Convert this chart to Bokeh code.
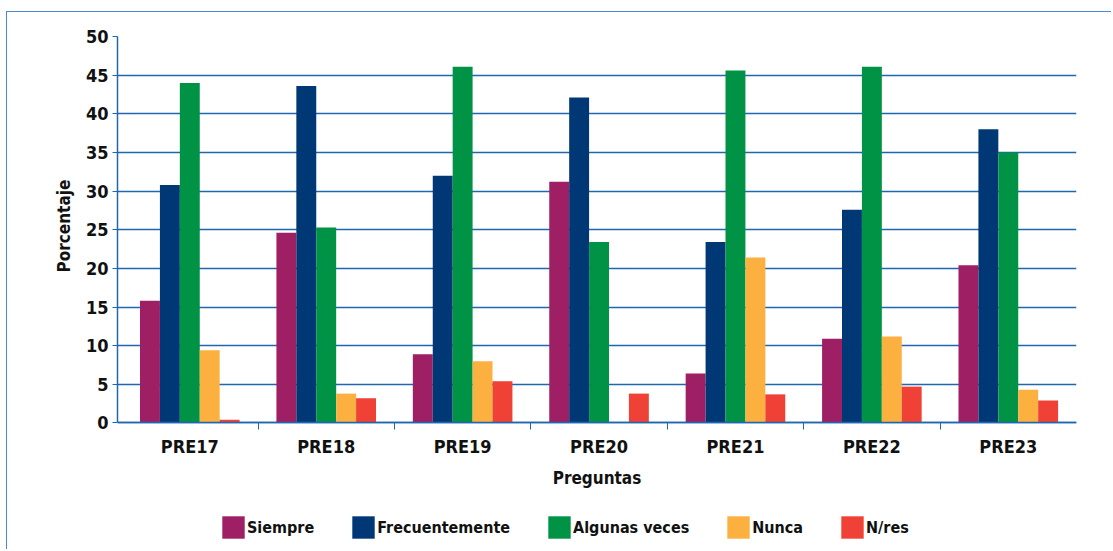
from bokeh.plotting import figure
from bokeh.models import (ColumnDataSource, FixedTicker, Range1d, Legend,
                          LegendItem, Title)
from bokeh.embed import file_html
from bokeh.resources import INLINE

# Survey answers per question, in percent
preguntas = ["PRE17", "PRE18", "PRE19", "PRE20", "PRE21", "PRE22", "PRE23"]
siempre = [15.8, 24.6, 8.9, 31.2, 6.4, 10.9, 20.4]
frecuentemente = [30.8, 43.6, 32.0, 42.1, 23.4, 27.6, 38.0]
algunas_veces = [44.0, 25.3, 46.1, 23.4, 45.6, 46.1, 35.0]
nunca = [9.4, 3.8, 8.0, 0.0, 21.4, 11.2, 4.3]
n_res = [0.4, 3.2, 5.4, 3.8, 3.7, 4.7, 2.9]

series = [
    ("Siempre", siempre, "#9e1f63"),
    ("Frecuentemente", frecuentemente, "#003876"),
    ("Algunas veces", algunas_veces, "#009245"),
    ("Nunca", nunca, "#fbb040"),
    ("N/res", n_res, "#ef4136"),
]
y_ticks = list(range(0, 51, 5))

FONT = "'DejaVu Sans Condensed', 'DejaVu Sans', sans-serif"
BLUE = "#1f67b1"

# the plot frame reaches down to the bottom edge so that the category axis,
# its title and the legend can sit inside it, below the zero line
p = figure(width=1105, height=538, output_backend="svg", toolbar_location=None,
           x_range=Range1d(-0.03, len(preguntas)), y_range=Range1d(-16.5, 50),
           min_border_left=110, min_border_right=36, min_border_top=24,
           min_border_bottom=0)
p.outline_line_color = None
p.background_fill_color = "white"
p.border_fill_color = "white"
p.styles = {"margin-left": "6px", "margin-top": "11px",
            "border-left": "1.5px solid #4a8ad0",
            "border-top": "1.5px solid #4a8ad0"}

centers = [i + 0.5 for i in range(len(preguntas))]
bar_w = 0.146
items = []
for k, (name, vals, color) in enumerate(series):
    xs = [c + (k - 2) * bar_w for c in centers]
    src = ColumnDataSource(dict(x=xs, top=vals))
    r = p.vbar(x="x", top="top", width=bar_w, bottom=0, source=src,
               fill_color=color, line_color=None)
    items.append(LegendItem(label=name, renderers=[r]))

# y axis
p.yaxis.ticker = FixedTicker(ticks=y_ticks)
p.yaxis.bounds = (0, 50.4)
p.yaxis.axis_line_color = BLUE
p.yaxis.major_tick_line_color = BLUE
p.yaxis.major_tick_out = 5
p.yaxis.major_tick_in = 0
p.yaxis.minor_tick_line_color = None
p.yaxis.major_label_standoff = 4

# y title, placed along the 0-50 span rather than the whole frame
p.add_layout(Title(text="Porcentaje", align="left", offset=278, standoff=18,
                   text_font=FONT, text_font_style="bold",
                   text_font_size="17px", text_color="#111111"), "left")

# x axis on the zero line: labels at the group centres,
# tick marks on the group boundaries
p.xaxis.fixed_location = 0
p.xaxis.ticker = FixedTicker(ticks=centers,
                             minor_ticks=list(range(1, len(preguntas))))
p.xaxis.major_label_overrides = {c: lab for c, lab in zip(centers, preguntas)}
p.xaxis.axis_label = "Preguntas"
p.xaxis.axis_line_color = BLUE
p.xaxis.major_tick_line_color = None
p.xaxis.major_tick_out = 0
p.xaxis.minor_tick_line_color = BLUE
p.xaxis.minor_tick_out = 7
p.xaxis.minor_tick_in = 0
p.xaxis.major_label_standoff = 6
p.xaxis.axis_label_standoff = 8

for ax in (p.xaxis, p.yaxis):
    ax.axis_line_width = 1.5
    ax.major_label_text_font = FONT
    ax.major_label_text_font_style = "bold"
    ax.major_label_text_font_size = "18px"
    ax.major_label_text_color = "#111111"
    ax.axis_label_text_font = FONT
    ax.axis_label_text_font_style = "bold"
    ax.axis_label_text_font_size = "17px"
    ax.axis_label_text_color = "#111111"

p.xgrid.grid_line_color = None
p.ygrid.ticker = FixedTicker(ticks=y_ticks)
p.ygrid.grid_line_color = BLUE
p.ygrid.grid_line_width = 1.3

legend = Legend(items=items, orientation="horizontal", location=(102, 9),
                glyph_width=28, glyph_height=28, label_standoff=0, spacing=35,
                padding=0, margin=0, border_line_color=None,
                background_fill_alpha=0,
                label_text_font=FONT, label_text_font_style="bold",
                label_text_font_size="16px", label_text_color="#111111")
p.add_layout(legend, "center")

open("out.html", "w").write(file_html(p, INLINE))
